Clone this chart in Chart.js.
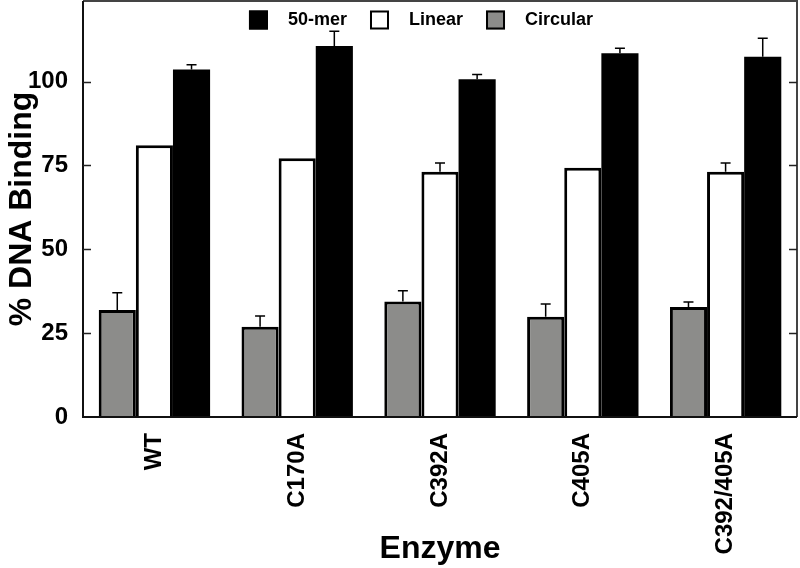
<!DOCTYPE html>
<html><head><meta charset="utf-8">
<script src="https://cdn.jsdelivr.net/npm/chart.js@4/dist/chart.umd.min.js"></script>
<style>html,body{margin:0;padding:0;background:#fff}#wrap{width:800px;height:568px;position:relative}</style>
</head><body><div id="wrap"><canvas id="c"></canvas></div>
<script>
const categories = ['WT', 'C170A', 'C392A', 'C405A', 'C392/405A'];
const circular = [31.9, 26.9, 34.4, 29.9, 32.8];
const circularErr = [5.1, 3.2, 3.2, 3.8, 1.5];
const linear = [81.0, 77.1, 73.1, 74.3, 73.1];
const linearErr = [0, 0, 2.6, 0, 2.6];
const mer50 = [103.6, 110.6, 100.7, 108.4, 107.4];
const mer50Err = [1.4, 4.4, 1.4, 1.5, 5.5];
const yTicks = [0, 25, 50, 75, 100];
const errors = [circularErr, linearErr, mer50Err];

const FONT = '"Liberation Sans", Arial, Helvetica, sans-serif';

const framePlugin = {
  id: 'frame',
  afterDatasetsDraw(chart) {
    const ctx = chart.ctx, ys = chart.scales.y;
    ctx.save();
    ctx.strokeStyle = '#000';
    ctx.lineWidth = 1.5;
    chart.data.datasets.forEach((ds, i) => {
      const meta = chart.getDatasetMeta(i);
      meta.data.forEach((bar, j) => {
        const e = errors[i][j];
        if (!e) return;
        const y0 = ys.getPixelForValue(ds.data[j]);
        const y1 = ys.getPixelForValue(ds.data[j] + e);
        ctx.beginPath();
        ctx.moveTo(bar.x, y0);
        ctx.lineTo(bar.x, y1);
        ctx.moveTo(bar.x - 5, y1);
        ctx.lineTo(bar.x + 5, y1);
        ctx.stroke();
      });
    });
    ctx.restore();
  },
  afterDraw(chart) {
    const ctx = chart.ctx, a = chart.chartArea, ys = chart.scales.y;
    ctx.save();
    ctx.lineWidth = 2;
    ctx.strokeStyle = '#444';
    ctx.beginPath();
    ctx.moveTo(a.left, a.top); ctx.lineTo(a.right, a.top); ctx.lineTo(a.right, a.bottom);
    ctx.stroke();
    ctx.strokeStyle = '#111';
    ctx.beginPath();
    ctx.moveTo(a.left, a.top); ctx.lineTo(a.left, a.bottom); ctx.lineTo(a.right, a.bottom);
    ctx.stroke();
    ctx.lineWidth = 1.5;
    ctx.strokeStyle = '#222';
    yTicks.forEach(v => {
      if (v === 0) return;
      const y = Math.round(ys.getPixelForValue(v)) + 0.5;
      ctx.beginPath();
      ctx.moveTo(a.left, y); ctx.lineTo(a.left + 8, y);
      ctx.moveTo(a.right, y); ctx.lineTo(a.right - 8, y);
      ctx.stroke();
    });
    // legend inside plot (order: 50-mer, Linear, Circular)
    const items = [2, 1, 0].map(i => chart.data.datasets[i]);
    ctx.font = 'bold 18px ' + FONT;
    ctx.textBaseline = 'middle';
    ctx.textAlign = 'left';
    const box = 19, boxGap = 20, itemGap = 23;
    let total = 0;
    items.forEach((d, k) => {
      total += box + boxGap + ctx.measureText(d.label).width + (k < items.length - 1 ? itemGap : 0);
    });
    let x = 421 - total / 2;
    const cy = a.top + 19;
    items.forEach(d => {
      ctx.fillStyle = d.backgroundColor;
      ctx.fillRect(x, cy - box / 2, box, box);
      ctx.lineWidth = 2;
      ctx.strokeStyle = '#000';
      ctx.strokeRect(x + 1, cy - box / 2 + 1, box - 2, box - 2);
      ctx.fillStyle = '#000';
      ctx.fillText(d.label, x + box + boxGap, cy);
      x += box + boxGap + ctx.measureText(d.label).width + itemGap;
    });
    ctx.restore();
  }
};

new Chart(document.getElementById('c'), {
  type: 'bar',
  data: {
    labels: categories,
    datasets: [
      { label: 'Circular', data: circular, backgroundColor: '#8c8c8a', borderColor: '#000', borderWidth: 3 },
      { label: 'Linear', data: linear, backgroundColor: '#ffffff', borderColor: '#000', borderWidth: 3 },
      { label: '50-mer', data: mer50, backgroundColor: '#000000', borderColor: '#000', borderWidth: 0 }
    ]
  },
  options: {
    responsive: true,
    maintainAspectRatio: false,
    animation: false,
    layout: { padding: { top: 1, right: 3, left: 0, bottom: 0 } },
    datasets: { bar: { categoryPercentage: 0.78, barPercentage: 1.0 } },
    plugins: { legend: { display: false }, tooltip: { enabled: false } },
    scales: {
      x: {
        grid: { display: false, drawTicks: false },
        border: { display: false },
        ticks: {
          color: '#000', font: { family: FONT, size: 24, weight: 'bold' },
          minRotation: 90, maxRotation: 90, autoSkip: false, padding: 16
        },
        title: {
          display: true, text: 'Enzyme', color: '#000',
          font: { family: FONT, size: 32, weight: 'bold' }, padding: { top: 0, bottom: 0 }
        },
        afterFit(s) { s.height = 151; s.paddingLeft = 0; s.paddingRight = 0; }
      },
      y: {
        min: 0, max: 124,
        grid: { display: false, drawTicks: false },
        border: { display: false },
        afterBuildTicks(s) { s.ticks = yTicks.map(v => ({ value: v })); },
        ticks: {
          color: '#000', font: { family: FONT, size: 24, weight: 'bold' }, padding: 15
        },
        title: {
          display: true, text: '% DNA Binding', color: '#000',
          font: { family: FONT, size: 32, weight: 'bold' }, padding: { top: 3, bottom: 0 }
        },
        afterFit(s) { s.width = 83; s.paddingTop = 0; s.paddingBottom = 0; }
      }
    }
  },
  plugins: [framePlugin]
});
</script>
</body></html>
